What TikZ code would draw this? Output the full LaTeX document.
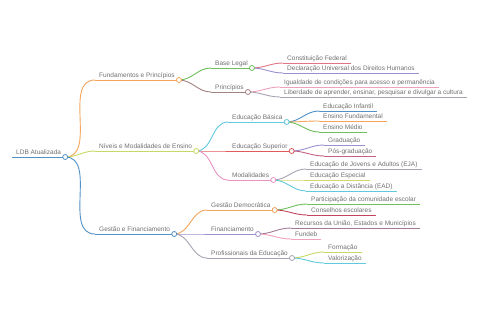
\documentclass[tikz,border=0pt]{standalone}
\usepackage{fontspec}
\setmainfont{Liberation Sans}

\definecolor{txtgray}{HTML}{707070}
\definecolor{cBlue}{HTML}{5291C8}
\definecolor{cOrange}{HTML}{F5A55C}
\definecolor{cLime}{HTML}{C8D864}
\definecolor{cGreen}{HTML}{6CBF5A}
\definecolor{cMauve}{HTML}{A38282}
\definecolor{cRose}{HTML}{E07484}
\definecolor{cLilac}{HTML}{9C8FCF}
\definecolor{cPink}{HTML}{F0A2BA}
\definecolor{cGray}{HTML}{A8A2B2}
\definecolor{cCyan}{HTML}{62C8DC}
\definecolor{cRed}{HTML}{E05A5A}
\definecolor{cMagenta}{HTML}{E892C2}
\definecolor{cWine}{HTML}{C2607F}
\definecolor{cYellow}{HTML}{D8D86A}
\definecolor{cMaroon}{HTML}{C2445E}
\definecolor{cPlum}{HTML}{A37A92}

\begin{document}
\begin{tikzpicture}
[
	x=1pt,
	y=-1pt,
	lbl/.style={anchor=south west,inner xsep=4pt,inner ysep=2pt,text depth=0pt,
		font=\fontsize{6.5}{7}\selectfont,text=txtgray},
	dot/.style={circle,draw=#1,fill=white,line width=0.8pt,inner sep=0pt,minimum size=5pt},
	link/.style={line width=0.9pt},
	curvelink/.style={link,out=0,in=180}
]

	\useasboundingbox (0,0) rectangle (480,320);

	% root
	\node[lbl] (ldb) at (12,157) {LDB Atualizada};
	\draw[link,cBlue] (ldb.south west) -- (ldb.south east);

	% level 1
	\node[lbl] (fund) at (95,80) {Fundamentos e Princípios};
	\node[lbl] (niv) at (95,151) {Níveis e Modalidades de Ensino};
	\node[lbl] (gest) at (95,234) {Gestão e Financiamento};
	\draw[link,cOrange] (fund.south west) -- (fund.south east);
	\draw[link,cLime] (niv.south west) -- (niv.south east);
	\draw[link,cBlue] (gest.south west) -- (gest.south east);
	\draw[curvelink,cOrange] (ldb.south east) to (fund.south west);
	\draw[curvelink,cLime] (ldb.south east) to (niv.south west);
	\draw[curvelink,cBlue] (ldb.south east) to (gest.south west);
	\node[dot=cBlue] (ldbc) at (ldb.south east) {};

	% level 2
	\node[lbl] (base) at (211,68) {Base Legal};
	\node[lbl] (prin) at (211,92) {Princípios};
	\node[lbl] (basi) at (228,122) {Educação Básica};
	\node[lbl] (sup) at (228,151) {Educação Superior};
	\node[lbl] (moda) at (228,180) {Modalidades};
	\node[lbl] (demo) at (207,210) {Gestão Democrática};
	\node[lbl] (fin) at (207,234) {Financiamento};
	\node[lbl] (prof) at (207,258) {Profissionais da Educação};
	\draw[link,cGreen] (base.south west) -- (base.south east);
	\draw[link,cMauve] (prin.south west) -- (prin.south east);
	\draw[link,cCyan] (basi.south west) -- (basi.south east);
	\draw[link,cRed] (sup.south west) -- (sup.south east);
	\draw[link,cMagenta] (moda.south west) -- (moda.south east);
	\draw[link,cOrange] (demo.south west) -- (demo.south east);
	\draw[link,cLilac] (fin.south west) -- (fin.south east);
	\draw[link,cGray] (prof.south west) -- (prof.south east);
	\draw[curvelink,cGreen] (fund.south east) to (base.south west);
	\draw[curvelink,cMauve] (fund.south east) to (prin.south west);
	\draw[curvelink,cCyan] (niv.south east) to (basi.south west);
	\draw[curvelink,cRed] (niv.south east) to (sup.south west);
	\draw[curvelink,cMagenta] (niv.south east) to (moda.south west);
	\draw[curvelink,cOrange] (gest.south east) to (demo.south west);
	\draw[curvelink,cLilac] (gest.south east) to (fin.south west);
	\draw[curvelink,cGray] (gest.south east) to (prof.south west);
	\node[dot=cOrange] (fundc) at (fund.south east) {};
	\node[dot=cLime] (nivc) at (niv.south east) {};
	\node[dot=cBlue] (gestc) at (gest.south east) {};

	% level 3
	\node[lbl] (cons) at (283,63) {Constituição Federal};
	\node[lbl] (decl) at (283,73) {Declaração Universal dos Direitos Humanos};
	\node[lbl] (igua) at (280,87) {Igualdade de condições para acesso e permanência};
	\node[lbl] (libe) at (280,97) {Liberdade de aprender, ensinar, pesquisar e divulgar a cultura};
	\node[lbl] (infa) at (319,111) {Educação Infantil};
	\node[lbl] (fund2) at (319,121) {Ensino Fundamental};
	\node[lbl] (medi) at (319,132) {Ensino Médio};
	\node[lbl] (grad) at (324,145) {Graduação};
	\node[lbl] (posg) at (324,156) {Pós-graduação};
	\node[lbl] (eja) at (306,169) {Educação de Jovens e Adultos (EJA)};
	\node[lbl] (espe) at (306,180) {Educação Especial};
	\node[lbl] (ead) at (306,191) {Educação a Distância (EAD)};
	\node[lbl] (part) at (307,204) {Participação da comunidade escolar};
	\node[lbl] (conse) at (307,215) {Conselhos escolares};
	\node[lbl] (recu) at (291,228) {Recursos da União, Estados e Municípios};
	\node[lbl] (fdeb) at (291,239) {Fundeb};
	\node[lbl] (form) at (324,252) {Formação};
	\node[lbl] (valo) at (324,263) {Valorização};

	\foreach \leaf/\up/\col in {cons/base/cRose,decl/base/cLilac,
		igua/prin/cPink,libe/prin/cGray,
		infa/basi/cBlue,fund2/basi/cOrange,medi/basi/cGreen,
		grad/sup/cLilac,posg/sup/cWine,
		eja/moda/cGray,espe/moda/cYellow,ead/moda/cCyan,
		part/demo/cGreen,conse/demo/cMaroon,
		recu/fin/cPlum,fdeb/fin/cPink,
		form/prof/cLime,valo/prof/cCyan} {
		\draw[link,\col] (\leaf.south west) -- (\leaf.south east);
		\draw[curvelink,\col] (\up.south east) to (\leaf.south west);
	}

	% level 2 dots
	\node[dot=cGreen] (basec) at (base.south east) {};
	\node[dot=cMauve] (princ) at (prin.south east) {};
	\node[dot=cCyan] (basic) at (basi.south east) {};
	\node[dot=cRed] (supc) at (sup.south east) {};
	\node[dot=cMagenta] (modac) at (moda.south east) {};
	\node[dot=cOrange] (democ) at (demo.south east) {};
	\node[dot=cLilac] (finc) at (fin.south east) {};
	\node[dot=cGray] (profc) at (prof.south east) {};

\end{tikzpicture}
\end{document}
